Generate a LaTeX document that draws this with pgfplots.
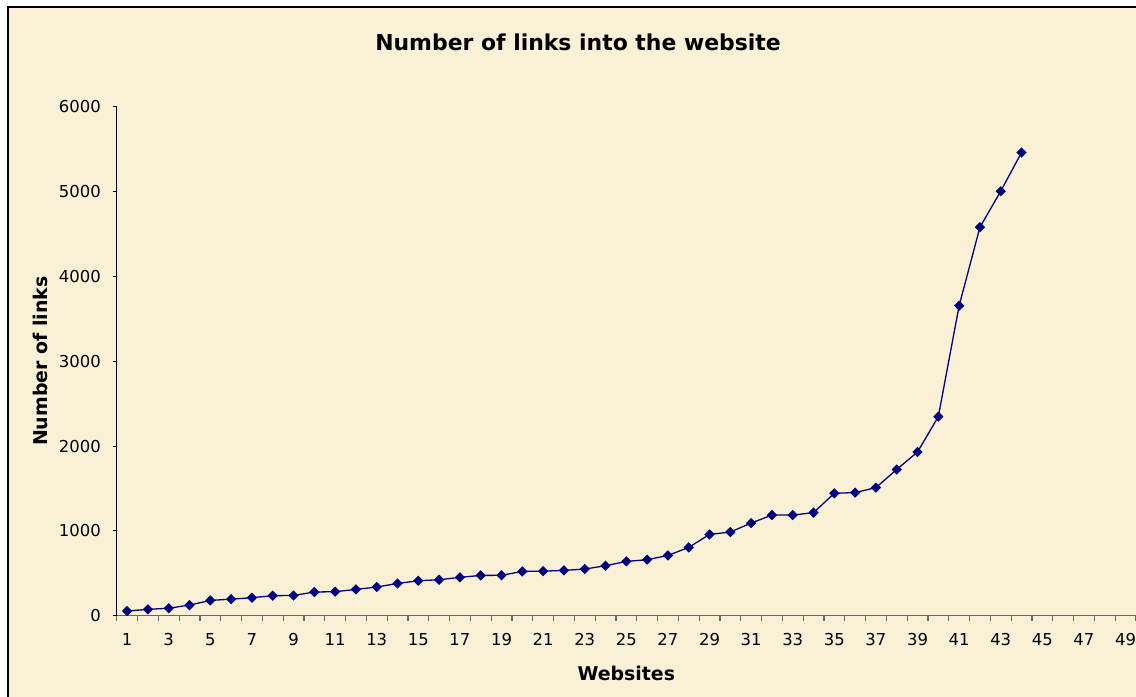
\documentclass[border=0pt]{standalone}
\usepackage{fontspec}
\setmainfont{DejaVu Sans}
\usepackage{pgfplots}
\pgfplotsset{compat=1.18}
\definecolor{parch}{RGB}{250,240,214}
\definecolor{navy}{RGB}{0,0,128}
\begin{document}
\begin{tikzpicture}
\useasboundingbox (0,0) rectangle (1136bp,697bp);
\fill[white] (0,0) rectangle (1136bp,697bp);
\begin{scope}
\clip (0,0) rectangle (1136bp,697bp);
\draw[black, line width=1.2bp, fill=parch] (8bp,-5bp) rectangle (1150bp,690bp);
\end{scope}
\begin{axis}[
  at={(116.7bp,81.3bp)}, anchor=south west,
  scale only axis, width=1019.3bp, height=509bp,
  xmin=0.5, xmax=49.5, ymin=0, ymax=6000,
  axis x line*=bottom, axis y line*=left,
  x axis line style={draw=black!60, line width=1.5bp},
  y axis line style={draw=black, line width=1bp},
  xtick={1,3,...,49},
  minor xtick={0.5,1.5,...,49.5},
  ytick={0,1000,...,6000},
  tick align=outside,
  major tick length=4bp, minor tick length=5bp,
  major x tick style={draw=none},
  minor x tick style={draw=black!60, line width=1.2bp},
  major y tick style={draw=black, line width=1bp},
  tick label style={font=\fontsize{16.5}{19}\selectfont},
  /pgf/number format/assume math mode=true,
  /pgf/number format/1000 sep={},
  xticklabel style={anchor=base, yshift=-26.3bp},
  yticklabel style={anchor=east, inner sep=0pt, xshift=-11.7bp},
  title={Number of links into the website},
  title style={font=\bfseries\fontsize{22}{26}\selectfont, at={(axis description cs:0.4526,1)}, anchor=center, yshift=58.7bp},
  xlabel={Websites},
  xlabel style={font=\bfseries\fontsize{19}{23}\selectfont, at={(axis description cs:0.5,0)}, anchor=center, yshift=-57.3bp},
  ylabel={Number of links},
  ylabel style={font=\bfseries\fontsize{19}{23}\selectfont, at={([xshift=-76.7bp]axis description cs:0,0.5)}, anchor=center},
  clip=false,
]
\addplot[color=navy, line width=1.3bp, mark=square*, mark size=3bp,
  mark options={rotate=45, fill=navy, draw=navy, solid}] coordinates {
 (1,55) (2,75) (3,88) (4,125) (5,180) (6,195) (7,212) (8,236) (9,238) (10,279)
 (11,283) (12,310) (13,338) (14,380) (15,412) (16,424) (17,452) (18,475) (19,476) (20,522)
 (21,525) (22,534) (23,550) (24,589) (25,640) (26,660) (27,710) (28,805) (29,958) (30,986)
 (31,1092) (32,1186) (33,1186) (34,1215) (35,1443) (36,1451) (37,1510) (38,1724) (39,1930) (40,2347)
 (41,3654) (42,4580) (43,5004) (44,5460)
};
\end{axis}
\end{tikzpicture}
\end{document}
